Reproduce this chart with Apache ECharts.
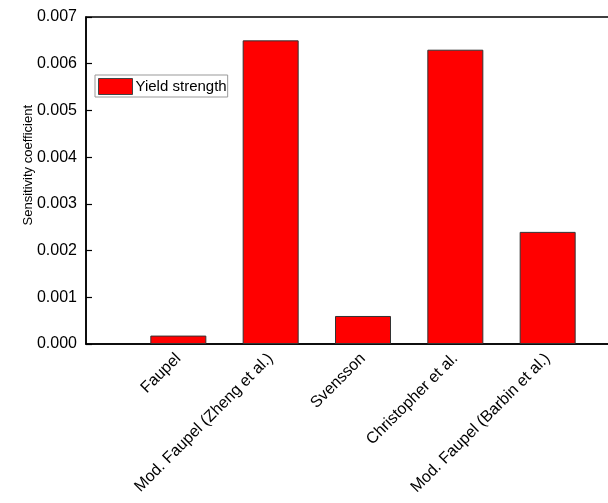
<!DOCTYPE html>
<html>
<head>
<meta charset="utf-8">
<script src="https://cdn.jsdelivr.net/npm/echarts@6/dist/echarts.min.js"></script>
<style>html,body{margin:0;padding:0;background:#fff;}#c{width:608px;height:503px;}</style>
</head>
<body>
<div id="c"></div>
<script>
const categories = ['Faupel', 'Mod. Faupel (Zheng et al.)', 'Svensson', 'Christopher et al.', 'Mod. Faupel (Barbin et al.)'];
const yieldStrength = [0.00018, 0.0065, 0.0006, 0.0063, 0.0024];
const seriesName = 'Yield strength';
const yAxisTitle = 'Sensitivity coefficient';

const xData = [''].concat(categories, ['']);
const barData = [null].concat(yieldStrength, [null]);

const chart = echarts.init(document.getElementById('c'), null, {renderer: 'canvas'});
const font = 'Liberation Sans, Arial, sans-serif';
chart.setOption({
  animation: false,
  backgroundColor: '#fff',
  grid: {left: 86, top: 17, right: -32, bottom: 159, show: true, borderColor: '#000', borderWidth: 1.5, containLabel: false, outerBoundsMode: 'none'},
  legend: {
    data: [seriesName], left: 95, top: 75, orient: 'vertical', icon: 'rect',
    itemWidth: 34, itemHeight: 16, itemGap: 4,
    padding: [3, 1, 2, 3], borderColor: '#999', borderWidth: 1, borderRadius: 0,
    textStyle: {fontFamily: font, fontSize: 15, color: '#000', padding: [0, 0, 0, -2]},
    itemStyle: {borderColor: '#444', borderWidth: 1}
  },
  xAxis: {
    type: 'category', data: xData, boundaryGap: false,
    axisLine: {lineStyle: {color: '#000', width: 1.5}},
    axisTick: {show: false},
    splitLine: {show: false},
    axisLabel: {interval: 0, rotate: 45, fontFamily: font, fontSize: 16, color: '#000', margin: 12}
  },
  yAxis: {
    type: 'value', min: 0, max: 0.007, interval: 0.001,
    axisLine: {show: true, lineStyle: {color: '#000', width: 1.5}},
    axisTick: {show: true, inside: true, length: 6, lineStyle: {color: '#000', width: 1.2}},
    splitLine: {show: false},
    axisLabel: {fontFamily: font, fontSize: 16, color: '#000', margin: 9, formatter: v => v.toFixed(3)}
  },
  graphic: [{
    type: 'text', left: 22, top: 105,
    rotation: Math.PI / 2,
    style: {text: yAxisTitle, font: '13px Liberation Sans, Arial, sans-serif', fill: '#000'}
  }],
  series: [{
    name: seriesName, type: 'bar', data: barData, barWidth: 56,
    itemStyle: {color: '#ff0000', borderColor: '#333', borderWidth: 1}
  }]
});
</script>
</body>
</html>
